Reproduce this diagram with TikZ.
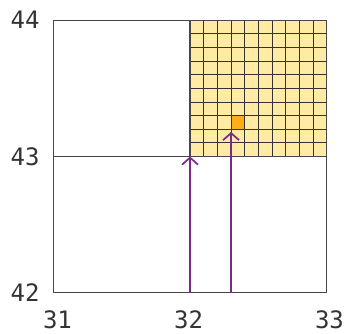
\documentclass[tikz,border=0pt]{standalone}
\usepackage{fontspec}
\setmainfont{DejaVu Sans Mono}
\usetikzlibrary{arrows.meta}
\definecolor{gridgray}{HTML}{474747}
\definecolor{cellyellow}{HTML}{FFEBA3}
\definecolor{cellorange}{HTML}{FFAE1A}
\definecolor{arrowpurple}{HTML}{7A2A8C}
\begin{document}
\begin{tikzpicture}[x=136.7pt,y=136.3pt,
  axislabel/.style={font=\fontsize{24}{24}\selectfont, text=black!80, inner sep=0pt},
  outerline/.style={draw=gridgray, line width=1.3pt},
  fineline/.style={draw=black!80, line width=1.0pt},
  ray/.style={draw=arrowpurple, line width=1.4pt, -{Straight Barb[length=7pt,width=16pt,line width=1.7pt]}}]
\useasboundingbox (30.61,41.702) rectangle (33.156,44.149);
% yellow refined cell
\fill[cellyellow] (32,43) rectangle (33,44);
\fill[cellorange] (32.3,43.2) rectangle (32.4,43.3);
\foreach \i in {1,...,9} {
  \draw[fineline] (32+\i/10,43) -- (32+\i/10,44);
  \draw[fineline] (32,43+\i/10) -- (33,43+\i/10);
}
\draw[fineline] (32,43) rectangle (33,44);
% outer grid
\draw[outerline] (31,42) rectangle (33,44);
\draw[outerline] (31,43) -- (33,43);
\draw[outerline] (32,43) -- (32,44);
% labels
\node[axislabel, anchor=east] (y44) at (30.90,44.0) {44};
\node[axislabel, anchor=east] (y43) at (30.90,43.0) {43};
\node[axislabel, anchor=east] (y42) at (30.90,42.0) {42};
\node[axislabel] (x31) at (31.03,41.80) {31};
\node[axislabel] (x32) at (31.99,41.80) {32};
\node[axislabel] (x33) at (33.02,41.80) {33};
% rays
\coordinate (r1s) at (32,42);
\coordinate (r1e) at (32,43);
\coordinate (r2s) at (32.3,42);
\coordinate (r2e) at (32.3,43.18);
\draw[ray] (r1s) -- (r1e);
\draw[ray] (r2s) -- (r2e);
\end{tikzpicture}
\end{document}
